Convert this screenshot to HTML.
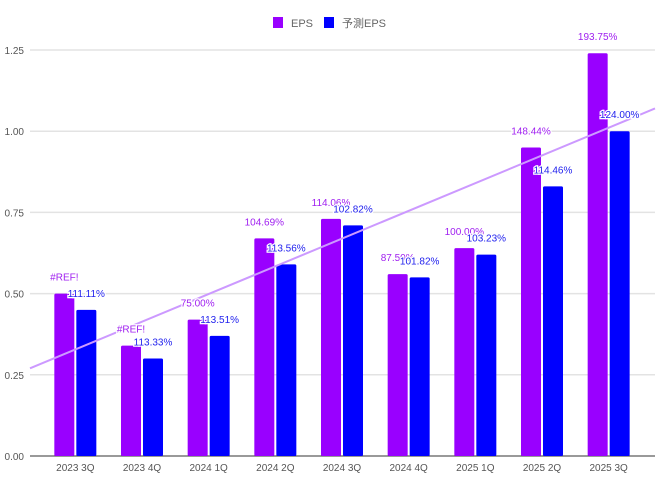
<!DOCTYPE html>
<html><head><meta charset="utf-8"><style>
body{margin:0;background:#fff}
svg{display:block;font-family:"Liberation Sans","Noto Sans CJK JP",sans-serif}
</style></head><body>
<svg id="c" width="669" height="487">
<g>
<rect x="273" y="17" width="10" height="11" fill="#9900ff"/>
<text x="291" y="27" font-size="11" fill="#666">EPS</text>
<rect x="324" y="17" width="10" height="11" fill="#0000ff"/>
<text x="342" y="27" font-size="11" fill="#666">予測EPS</text>
</g>
<g id="grid"></g><g id="bars"></g><g id="trend"></g><g id="labels"></g>
</svg>
<script>
const categories=["2023 3Q","2023 4Q","2024 1Q","2024 2Q","2024 3Q","2024 4Q","2025 1Q","2025 2Q","2025 3Q"];
const epsValues=[0.50,0.34,0.42,0.67,0.73,0.56,0.64,0.95,1.24];
const forecastValues=[0.45,0.30,0.37,0.59,0.71,0.55,0.62,0.83,1.00];
const epsLabels=["#REF!","#REF!","75.00%","104.69%","114.06%","87.50%","100.00%","148.44%","193.75%"];
const forecastLabels=["111.11%","113.33%","113.51%","113.56%","102.82%","101.82%","103.23%","114.46%","124.00%"];
const yTicks=[0,0.25,0.5,0.75,1.0,1.25];
const trendStart=0.27,trendEnd=1.07;
const NS="http://www.w3.org/2000/svg";
const y0=456,yTop=50,vMax=1.25,xL=42,xR=642,gL=30,gR=655;
const y=v=>y0-(v/vMax)*(y0-yTop);
const step=(xR-xL)/categories.length;
const xc=i=>xL+step*(i+0.5);
function mk(t,a,p){const e=document.createElementNS(NS,t);for(const k in a)e.setAttribute(k,a[k]);p.appendChild(e);return e;}
const grid=document.getElementById('grid');
yTicks.forEach(v=>{
 const l=mk('line',{x1:gL,x2:gR,y1:y(v),y2:y(v),stroke:v===0?'#333':'#e3e3e3','stroke-width':v===0?1:1.5},grid);
 
 
 const t=mk('text',{x:24,y:y(v)+4,'text-anchor':'end','font-size':10,fill:'#555'},grid);
 t.textContent=v.toFixed(2);
 
 
});
const bars=document.getElementById('bars'),labels=document.getElementById('labels');
categories.forEach((c,i)=>{
 const cx=xc(i);
 const b1=mk('rect',{x:cx-21,y:y(epsValues[i]),width:20,height:y0-y(epsValues[i]),fill:'#9900ff',rx:1.5},bars);
 
 
 const b2=mk('rect',{x:cx+1,y:y(forecastValues[i]),width:20,height:y0-y(forecastValues[i]),fill:'#0000ff',rx:1.5},bars);
 
 
 const t=mk('text',{x:cx,y:y0+15,'text-anchor':'middle','font-size':10,fill:'#555'},bars);
 t.textContent=c;
 
 
 const l1=mk('text',{x:cx-11,y:y(epsValues[i])-13,'text-anchor':'middle','font-size':10,fill:'#a020f0',stroke:'#fff','stroke-width':2.5,'paint-order':'stroke'},labels);
 l1.textContent=epsLabels[i];
 
 
 const l2=mk('text',{x:cx+11,y:y(forecastValues[i])-13,'text-anchor':'middle','font-size':10,fill:'#2222ee',stroke:'#fff','stroke-width':2.5,'paint-order':'stroke'},labels);
 l2.textContent=forecastLabels[i];
 
 
});
const tr=mk('line',{x1:gL,y1:y(trendStart),x2:gR,y2:y(trendEnd),stroke:'#cc99ff','stroke-width':2},document.getElementById('trend'));


</script>
</body></html>
